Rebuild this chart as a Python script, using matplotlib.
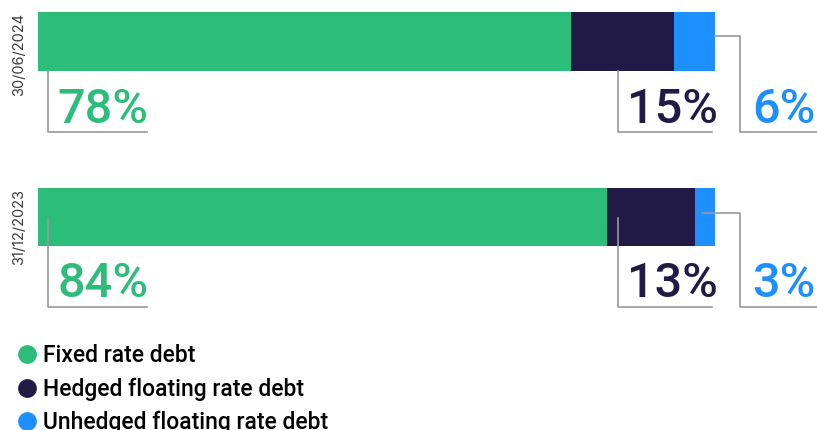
import numpy as np
import matplotlib
matplotlib.use("Agg")
from matplotlib import pyplot as plt
from matplotlib.lines import Line2D

dates = ["30/06/2024", "31/12/2023"]
fixed = np.array([78, 84])
hedged = np.array([15, 13])
unhedged = np.array([6, 3])
series_names = ["Fixed rate debt", "Hedged floating rate debt", "Unhedged floating rate debt"]

GREEN = "#2dbd7a"
NAVY = "#211a47"
BLUE = "#1e8fff"
GREY = "#9a9a9a"

# layout in pixels; the bars run from px 38 to px 715
W, H = 817, 430
X0, X1 = 38, 715
PX = (X1 - X0) / 100.0


def px(x):
    return (x - X0) / PX


fig = plt.figure(figsize=(W / 100, H / 100), dpi=100)
ax = fig.add_axes([0, 0, 1, 1])
ax.set_xlim(px(0), px(W))
ax.set_ylim(H, 0)
ax.axis("off")

bar_y = [41.5, 217]
bar_h = [59, 58]
totals = fixed + hedged + unhedged
shares = [fixed / totals * 100, hedged / totals * 100, unhedged / totals * 100]
colors = [GREEN, NAVY, BLUE]

left = np.zeros(2)
for share, c in zip(shares, colors):
    ax.barh(bar_y, share, left=left, height=bar_h, color=c, edgecolor="none", zorder=2)
    left += share

# leader lines and labels
lw = 1.2
label_base = [123, 297]
line_bottom = [131.5, 307]
line_top = [[71, 71, 36], [218, 218, 213]]
for i in range(2):
    yb = line_bottom[i]
    # fixed
    ax.plot([px(48), px(48), px(147)], [line_top[i][0], yb, yb], color=GREY, lw=lw, zorder=3)
    # hedged
    ax.plot([px(618), px(618), px(712)], [line_top[i][1], yb, yb], color=GREY, lw=lw, zorder=3)
    # unhedged
    xs = X1 if i == 0 else 702
    ax.plot([px(xs), px(740), px(740), px(W + 5)], [line_top[i][2], line_top[i][2], yb, yb],
            color=GREY, lw=lw, zorder=3, clip_on=False)

    vals = [fixed[i], hedged[i], unhedged[i]]
    for xl, v, c in zip([57, 627, 752], vals, colors):
        ax.text(px(xl), label_base[i], f"{v}%", color=c, fontsize=35, family="Roboto",
                fontweight="medium", ha="left", va="baseline")

    ax.text(px(19), [54, 227][i], dates[i], rotation=90, ha="center", va="center",
            fontsize=10.5, color="#3a3a3a", family="Inter")

handles = [Line2D([], [], marker="o", linestyle="none", markersize=12.5,
                  markerfacecolor=c, markeredgecolor=c) for c in colors]
fig.legend(handles, series_names, loc="upper left", bbox_to_anchor=(13 / W, 1 - 344 / H),
           frameon=False, handletextpad=0.1, labelspacing=0.45, handlelength=1.2,
           borderpad=0, borderaxespad=0,
           prop={"family": "Roboto", "size": 16.5, "weight": "medium"})

fig.savefig("out.png", dpi=100)
